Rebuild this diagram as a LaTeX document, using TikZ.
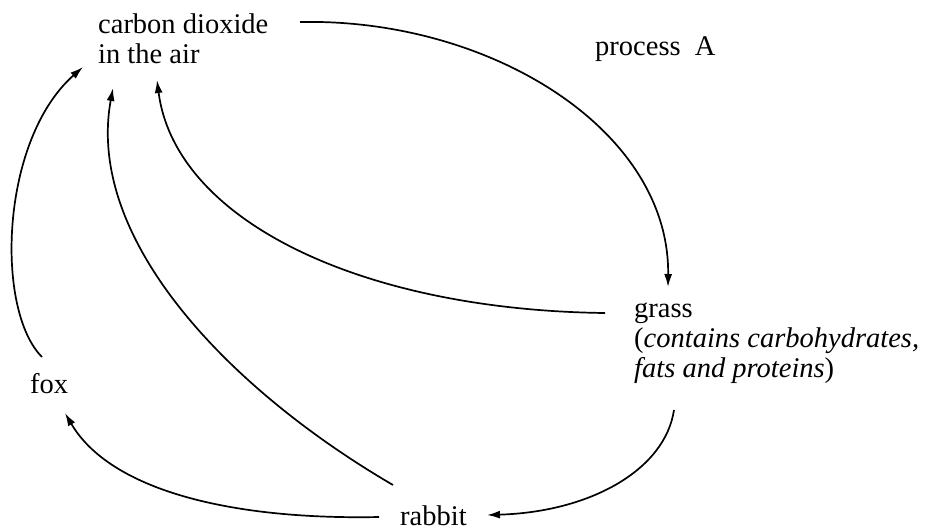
\documentclass[tikz,border=0pt]{standalone}
\usepackage{fontspec}
\setmainfont{Liberation Serif}
\usetikzlibrary{arrows.meta}
\begin{document}
\begin{tikzpicture}[x=1pt,y=-1pt,
  lbl/.style={anchor=base west,inner sep=0pt,align=left,font=\fontsize{28.5}{29.7}\selectfont},
  flow/.style={line width=1.7pt,-{Latex[length=13pt,width=8pt]}}]
\fill[white] (0,0) rectangle (928,531);
\useasboundingbox (0,0) rectangle (928,531);
\node[lbl] (co2) at (98,63) {carbon dioxide\\in the air};
\node[lbl] (procA) at (595,55) {process\ \ A};
\node[lbl] (grass) at (634,377) {grass\\(\textit{contains carbohydrates,}\\\textit{fats and proteins})};
\node[lbl] (fox) at (30,393) {fox};
\node[lbl] (rabbit) at (400,525) {rabbit};
% endpoints
\coordinate (co2r) at (300,22);
\coordinate (grasstop) at (668,287);
\coordinate (grassl) at (605,313);
\coordinate (co2a) at (157,80);
\coordinate (rabbitnw) at (393,485);
\coordinate (co2b) at (113,88);
\coordinate (foxtop) at (42,357);
\coordinate (co2c) at (83,67);
\coordinate (rabbitw) at (379,517);
\coordinate (foxbot) at (65,413);
\coordinate (grassb) at (674,410);
\coordinate (rabbite) at (487,515);
\draw[flow] (co2r) .. controls (490,18) and (670,130) .. (grasstop);
\draw[flow] (grassl) .. controls (360,310) and (175,220) .. (co2a);
\draw[flow] (rabbitnw) .. controls (230,390) and (85,240) .. (co2b);
\draw[flow] (foxtop) .. controls (-5,310) and (0,140) .. (co2c);
\draw[flow] (rabbitw) .. controls (230,520) and (110,490) .. (foxbot);
\draw[flow] (grassb) .. controls (665,470) and (590,512) .. (rabbite);
\end{tikzpicture}
\end{document}
